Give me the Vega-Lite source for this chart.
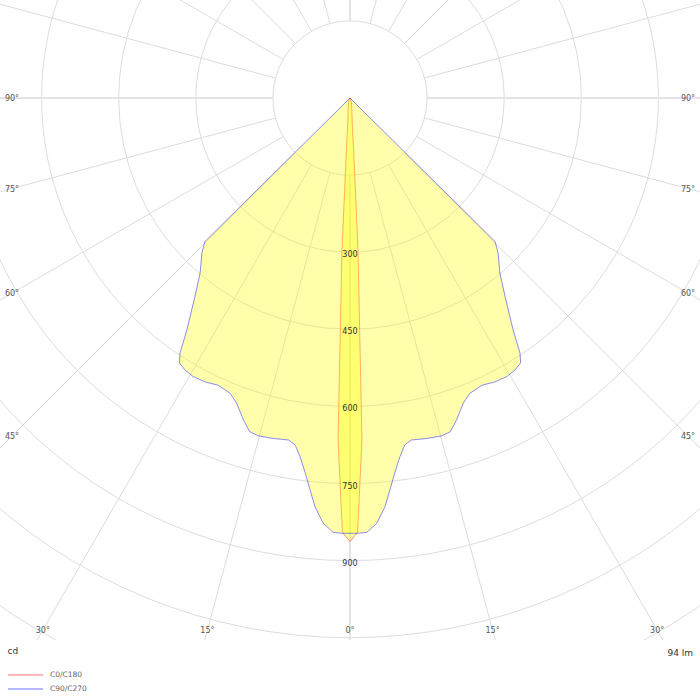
{
  "$schema": "https://vega.github.io/schema/vega-lite/v6.json",
  "width": 700,
  "height": 640,
  "autosize": {"type": "none"},
  "padding": {"left": 0, "top": 0, "right": 0, "bottom": 60},
  "background": "white",
  "config": {
    "view": {"stroke": null},
    "font": "DejaVu Sans",
    "axis": {"grid": false, "ticks": false, "labels": false, "domain": false},
    "axisX": {"titleX": 7, "titleY": 10, "titleAlign": "left", "titleBaseline": "middle", "titleFontSize": 9, "titleFontWeight": "normal", "titleColor": "#333333"}
  },
  "title": {"text": "94 lm", "orient": "bottom", "anchor": "end", "fontSize": 9, "fontWeight": "normal", "color": "#333333", "offset": -45, "dx": -7},
  "datasets": {
    "circles": [{"r": 150}, {"r": 300}, {"r": 450}, {"r": 600}, {"r": 750}, {"r": 900}, {"r": 1050}, {"r": 1200}],
    "rays": [{"a": 0}, {"a": 15}, {"a": 30}, {"a": 45}, {"a": 60}, {"a": 75}, {"a": 90}, {"a": 105}, {"a": 120}, {"a": 135}, {"a": 150}, {"a": 165}, {"a": 180}, {"a": 195}, {"a": 210}, {"a": 225}, {"a": 240}, {"a": 255}, {"a": 270}, {"a": 285}, {"a": 300}, {"a": 315}, {"a": 330}, {"a": 345}],
    "cdLabels": [{"v": 300}, {"v": 450}, {"v": 600}, {"v": 750}, {"v": 900}],
    "angleLabels": [
      {"a": 0, "side": 1},
      {"a": 15, "side": -1}, {"a": 15, "side": 1},
      {"a": 30, "side": -1}, {"a": 30, "side": 1},
      {"a": 45, "side": -1}, {"a": 45, "side": 1},
      {"a": 60, "side": -1}, {"a": 60, "side": 1},
      {"a": 75, "side": -1}, {"a": 75, "side": 1},
      {"a": 90, "side": -1}, {"a": 90, "side": 1}
    ],
    "curves": [
      {"series": "C0/C180", "g": -180, "cd": 0},
      {"series": "C0/C180", "g": -90, "cd": 0},
      {"series": "C0/C180", "g": -45, "cd": 0},
      {"series": "C0/C180", "g": -20, "cd": 8},
      {"series": "C0/C180", "g": -10, "cd": 20},
      {"series": "C0/C180", "g": -5, "cd": 50},
      {"series": "C0/C180", "g": -4, "cd": 100},
      {"series": "C0/C180", "g": -3, "cd": 300},
      {"series": "C0/C180", "g": -2, "cd": 666},
      {"series": "C0/C180", "g": -1, "cd": 845},
      {"series": "C0/C180", "g": 0, "cd": 863},
      {"series": "C0/C180", "g": 1, "cd": 845},
      {"series": "C0/C180", "g": 2, "cd": 666},
      {"series": "C0/C180", "g": 3, "cd": 300},
      {"series": "C0/C180", "g": 4, "cd": 100},
      {"series": "C0/C180", "g": 5, "cd": 50},
      {"series": "C0/C180", "g": 10, "cd": 20},
      {"series": "C0/C180", "g": 20, "cd": 8},
      {"series": "C0/C180", "g": 45, "cd": 0},
      {"series": "C0/C180", "g": 90, "cd": 0},
      {"series": "C0/C180", "g": 180, "cd": 0},
      {"series": "C90/C270", "g": -180, "cd": 0},
      {"series": "C90/C270", "g": -90, "cd": 0},
      {"series": "C90/C270", "g": -50, "cd": 0},
      {"series": "C90/C270", "g": -45.3, "cd": 397},
      {"series": "C90/C270", "g": -43.7, "cd": 417},
      {"series": "C90/C270", "g": -40.6, "cd": 448},
      {"series": "C90/C270", "g": -38.0, "cd": 490},
      {"series": "C90/C270", "g": -35.1, "cd": 552},
      {"series": "C90/C270", "g": -33.7, "cd": 596},
      {"series": "C90/C270", "g": -32.8, "cd": 613},
      {"series": "C90/C270", "g": -31.2, "cd": 619},
      {"series": "C90/C270", "g": -29.4, "cd": 622},
      {"series": "C90/C270", "g": -27.0, "cd": 620},
      {"series": "C90/C270", "g": -24.7, "cd": 615},
      {"series": "C90/C270", "g": -22.1, "cd": 620},
      {"series": "C90/C270", "g": -20.4, "cd": 633},
      {"series": "C90/C270", "g": -18.3, "cd": 660},
      {"series": "C90/C270", "g": -16.7, "cd": 678},
      {"series": "C90/C270", "g": -15.2, "cd": 681},
      {"series": "C90/C270", "g": -12.7, "cd": 679},
      {"series": "C90/C270", "g": -10.2, "cd": 676},
      {"series": "C90/C270", "g": -9.0, "cd": 683},
      {"series": "C90/C270", "g": -7.9, "cd": 705},
      {"series": "C90/C270", "g": -6.8, "cd": 735},
      {"series": "C90/C270", "g": -5.8, "cd": 767},
      {"series": "C90/C270", "g": -4.9, "cd": 798},
      {"series": "C90/C270", "g": -3.6, "cd": 829},
      {"series": "C90/C270", "g": -2.2, "cd": 846},
      {"series": "C90/C270", "g": -0.9, "cd": 847},
      {"series": "C90/C270", "g": 0, "cd": 847},
      {"series": "C90/C270", "g": 0.9, "cd": 847},
      {"series": "C90/C270", "g": 2.2, "cd": 846},
      {"series": "C90/C270", "g": 3.6, "cd": 829},
      {"series": "C90/C270", "g": 4.9, "cd": 798},
      {"series": "C90/C270", "g": 5.8, "cd": 767},
      {"series": "C90/C270", "g": 6.8, "cd": 735},
      {"series": "C90/C270", "g": 7.9, "cd": 705},
      {"series": "C90/C270", "g": 9.0, "cd": 683},
      {"series": "C90/C270", "g": 10.2, "cd": 676},
      {"series": "C90/C270", "g": 12.7, "cd": 679},
      {"series": "C90/C270", "g": 15.2, "cd": 681},
      {"series": "C90/C270", "g": 16.7, "cd": 678},
      {"series": "C90/C270", "g": 18.3, "cd": 660},
      {"series": "C90/C270", "g": 20.4, "cd": 633},
      {"series": "C90/C270", "g": 22.1, "cd": 620},
      {"series": "C90/C270", "g": 24.7, "cd": 615},
      {"series": "C90/C270", "g": 27.0, "cd": 620},
      {"series": "C90/C270", "g": 29.4, "cd": 622},
      {"series": "C90/C270", "g": 31.2, "cd": 619},
      {"series": "C90/C270", "g": 32.8, "cd": 613},
      {"series": "C90/C270", "g": 33.7, "cd": 596},
      {"series": "C90/C270", "g": 35.1, "cd": 552},
      {"series": "C90/C270", "g": 38.0, "cd": 490},
      {"series": "C90/C270", "g": 40.6, "cd": 448},
      {"series": "C90/C270", "g": 43.7, "cd": 417},
      {"series": "C90/C270", "g": 45.3, "cd": 397},
      {"series": "C90/C270", "g": 50, "cd": 0},
      {"series": "C90/C270", "g": 90, "cd": 0},
      {"series": "C90/C270", "g": 180, "cd": 0}
    ]
  },
  "layer": [
    {
      "data": {"name": "circles"},
      "mark": {"type": "arc", "filled": false, "stroke": "#dddddd", "strokeWidth": 1, "theta": 0, "theta2": 6.283185307179586, "clip": true},
      "encoding": {
        "x": {"datum": 0, "type": "quantitative", "scale": {"domain": [-680.93, 680.93], "nice": false, "zero": false}, "axis": {"title": "cd"}},
        "y": {"datum": 0, "type": "quantitative", "scale": {"domain": [-1054.47, 190.66], "nice": false, "zero": false}, "axis": null},
        "radius": {"field": "r", "type": "quantitative", "stack": null, "scale": {"type": "linear", "domain": [0, 1000], "range": [0, 514], "zero": true, "nice": false}, "legend": null}
      }
    },
    {
      "data": {"name": "rays"},
      "transform": [
        {"filter": "datum.a % 90 != 0"},
        {"calculate": "150 * sin(datum.a * PI / 180)", "as": "x1"},
        {"calculate": "-150 * cos(datum.a * PI / 180)", "as": "y1"},
        {"calculate": "1600 * sin(datum.a * PI / 180)", "as": "x2"},
        {"calculate": "-1600 * cos(datum.a * PI / 180)", "as": "y2"}
      ],
      "mark": {"type": "rule", "stroke": "#dcdcdc", "strokeWidth": 1, "clip": true},
      "encoding": {
        "x": {"field": "x1", "type": "quantitative", "scale": {"domain": [-680.93, 680.93], "nice": false, "zero": false}, "axis": {"title": "cd"}},
        "y": {"field": "y1", "type": "quantitative", "scale": {"domain": [-1054.47, 190.66], "nice": false, "zero": false}, "axis": null},
        "x2": {"field": "x2"},
        "y2": {"field": "y2"}
      }
    },
    {
      "data": {"name": "rays"},
      "transform": [
        {"filter": "datum.a % 90 == 0"},
        {"calculate": "150 * sin(datum.a * PI / 180)", "as": "x1"},
        {"calculate": "-150 * cos(datum.a * PI / 180)", "as": "y1"},
        {"calculate": "1600 * sin(datum.a * PI / 180)", "as": "x2"},
        {"calculate": "-1600 * cos(datum.a * PI / 180)", "as": "y2"}
      ],
      "mark": {"type": "rule", "stroke": "#e4e4e4", "strokeWidth": 2, "clip": true},
      "encoding": {
        "x": {"field": "x1", "type": "quantitative", "scale": {"domain": [-680.93, 680.93], "nice": false, "zero": false}, "axis": {"title": "cd"}},
        "y": {"field": "y1", "type": "quantitative", "scale": {"domain": [-1054.47, 190.66], "nice": false, "zero": false}, "axis": null},
        "x2": {"field": "x2"},
        "y2": {"field": "y2"}
      }
    },
    {
      "data": {"name": "curves"},
      "transform": [
        {"calculate": "datum.cd * sin(datum.g * PI / 180)", "as": "px"},
        {"calculate": "-datum.cd * cos(datum.g * PI / 180)", "as": "py"}
      ],
      "mark": {"type": "line", "fill": "#ffff00", "fillOpacity": 0.33, "strokeWidth": 1, "strokeOpacity": 0.45, "clip": true},
      "encoding": {
        "x": {"field": "px", "type": "quantitative", "scale": {"domain": [-680.93, 680.93], "nice": false, "zero": false}, "axis": {"title": "cd"}},
        "y": {"field": "py", "type": "quantitative", "scale": {"domain": [-1054.47, 190.66], "nice": false, "zero": false}, "axis": null},
        "order": {"field": "g", "type": "quantitative"},
        "color": {"field": "series", "type": "nominal",
                  "scale": {"domain": ["C0/C180", "C90/C270"], "range": ["#ff0000", "#0000ff"]},
                  "legend": {"title": null, "orient": "none", "legendX": 7, "legendY": 670, "direction": "vertical", "symbolType": "stroke", "symbolSize": 1225, "symbolStrokeWidth": 2, "symbolOpacity": 0.28, "labelFontSize": 7.5, "labelColor": "#666666", "labelOffset": 6, "clipHeight": 10, "rowPadding": 4, "padding": 0}}
      }
    },
    {
      "data": {"name": "cdLabels"},
      "transform": [{"calculate": "-datum.v", "as": "py"}],
      "mark": {"type": "text", "fontSize": 8, "color": "#333333", "align": "center", "baseline": "middle", "dy": 3},
      "encoding": {
        "x": {"datum": 0, "type": "quantitative", "scale": {"domain": [-680.93, 680.93], "nice": false, "zero": false}, "axis": {"title": "cd"}},
        "y": {"field": "py", "type": "quantitative", "scale": {"domain": [-1054.47, 190.66], "nice": false, "zero": false}, "axis": null},
        "text": {"field": "v", "type": "nominal"}
      }
    },
    {
      "data": {"name": "angleLabels"},
      "transform": [
        {"calculate": "datum.a == 0 ? 1035 : (datum.a == 90 ? 657.6 : min(657.6 / sin(datum.a * PI / 180), 1035 / cos(datum.a * PI / 180)))", "as": "rr"},
        {"calculate": "datum.side * datum.rr * sin(datum.a * PI / 180)", "as": "lx"},
        {"calculate": "-datum.rr * cos(datum.a * PI / 180)", "as": "ly"},
        {"calculate": "datum.a + '°'", "as": "lab"}
      ],
      "mark": {"type": "text", "fontSize": 8, "color": "#555555", "align": "center", "baseline": "middle", "dy": 1},
      "encoding": {
        "x": {"field": "lx", "type": "quantitative", "scale": {"domain": [-680.93, 680.93], "nice": false, "zero": false}, "axis": {"title": "cd"}},
        "y": {"field": "ly", "type": "quantitative", "scale": {"domain": [-1054.47, 190.66], "nice": false, "zero": false}, "axis": null},
        "text": {"field": "lab", "type": "nominal"}
      }
    }
  ]
}
